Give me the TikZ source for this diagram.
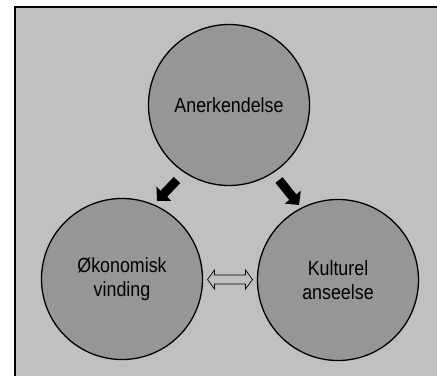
\documentclass[tikz,border=0pt]{standalone}
\usepackage{fontspec}
\setmainfont{Liberation Sans}[FakeStretch=0.87]
\usetikzlibrary{arrows.meta,calc}
\definecolor{bgc}{HTML}{C0C0C0}
\definecolor{circc}{HTML}{969696}
\begin{document}
\begin{tikzpicture}[x=1pt,y=1pt,
  bubble/.style={circle, draw=black, line width=1.3pt, fill=circc, minimum size=161pt, inner sep=0pt,
    align=center, font=\fontsize{20.5}{24}\selectfont},
  blockarrow/.style={line width=9pt, -{Triangle[length=10pt,width=20pt]}, black}]
\useasboundingbox (0,0) rectangle (437,376);
\fill[bgc] (15,0) rectangle (437,369);
\draw[line width=1.3pt] (15,0) -- (15,369) -- (437,369);
\node[bubble] (top) at (229,271) {Anerkendelse};
\node[bubble] (left) at (122,97) {Økonomisk\\vinding};
\node[bubble] (right) at (338,96) {Kulturel\\anseelse};
\coordinate (lt) at ($(top.center)+(-52,-75)$);
\coordinate (lh) at ($(left.center)+(35,78)$);
\coordinate (rt) at ($(top.center)+(50,-75)$);
\coordinate (rh) at ($(right.center)+(-39,75)$);
\draw[blockarrow] (lt) -- (lh);
\draw[blockarrow] (rt) -- (rh);
\coordinate (dc) at ($(left.center)!0.5!(right.center)$);
\draw[line width=0.7pt, line join=miter]
  ($(dc)+(-22.5,0)$) -- ++(7,9.5) -- ++(0,-5) -- ++(31,0) -- ++(0,5) -- ++(7,-9.5)
  -- ++(-7,-9.5) -- ++(0,5) -- ++(-31,0) -- ++(0,-5) -- cycle;
\end{tikzpicture}
\end{document}
